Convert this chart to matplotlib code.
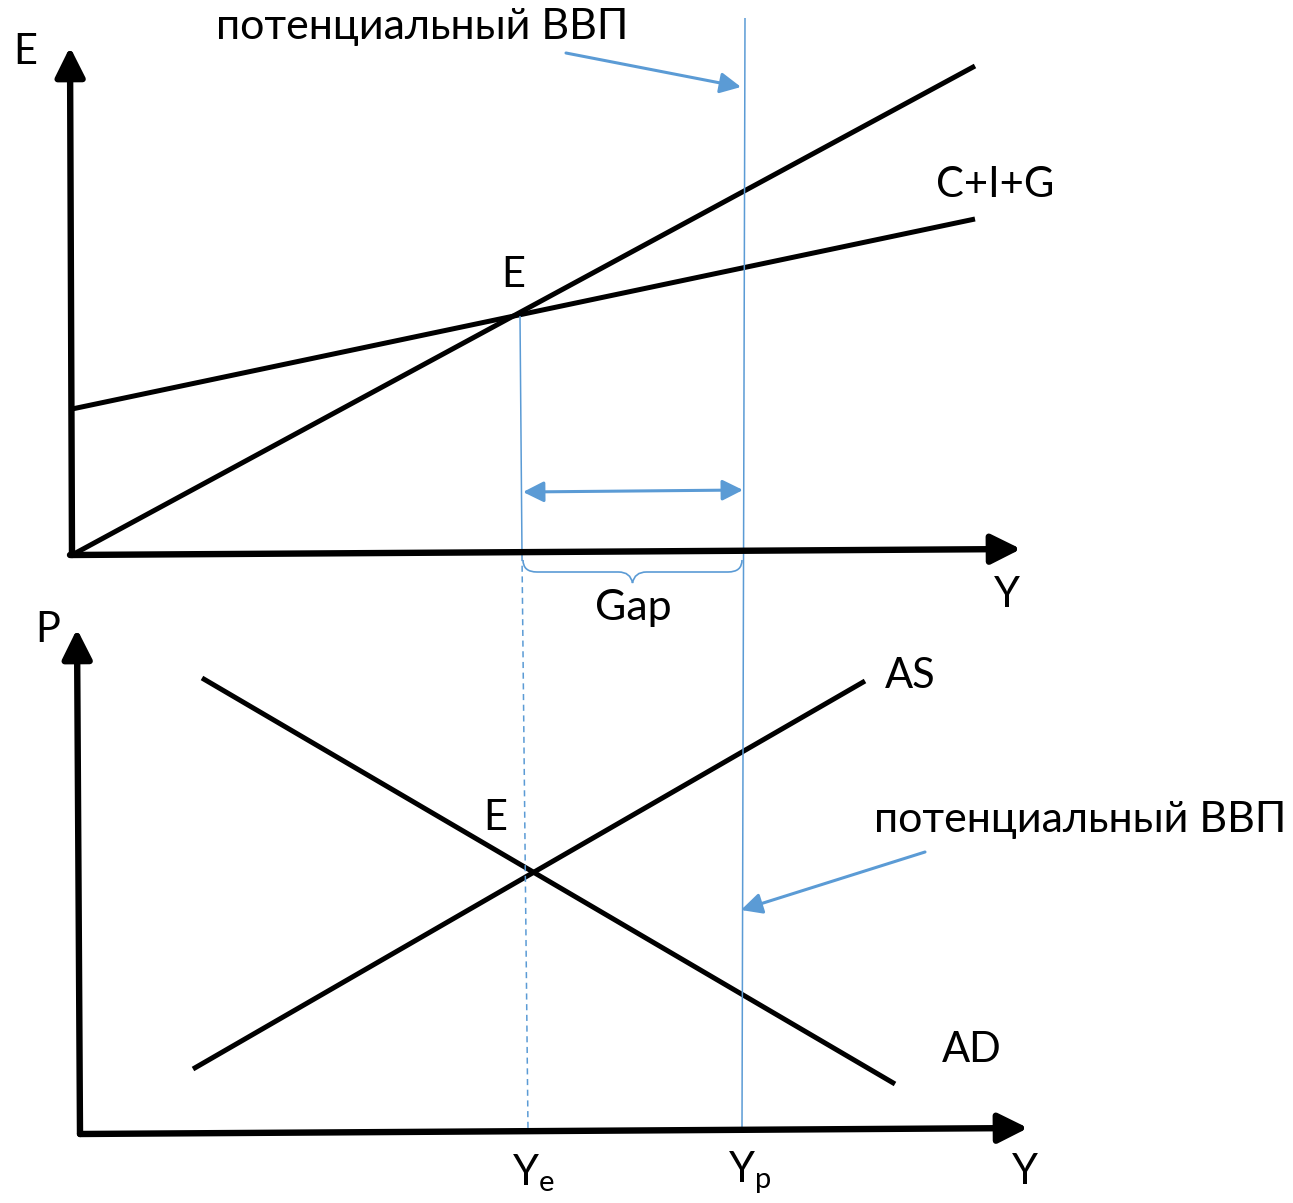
import matplotlib
matplotlib.use("Agg")
import matplotlib.pyplot as plt
from matplotlib.path import Path
from matplotlib.patches import PathPatch

plt.rcParams['font.family'] = ['Lato', 'DejaVu Sans']

# координаты схемы (пиксели картинки, y вниз)
# верхний график: кейнсианский крест
e_axis = [(72, 555), (70, 47)]
y_axis_top = [(70, 555), (1021, 549)]
line45 = [(72, 555), (975, 66)]
cig = [(72, 409), (975, 219)]
# нижний график: AD-AS
p_axis = [(80, 1134), (77, 629)]
y_axis_bot = [(80, 1134), (1028, 1128)]
ad = [(202, 678), (895, 1084)]
as_line = [(193, 1069), (865, 681)]
# вертикали Ye и Yp
ye_solid = [(520, 316), (522, 555)]
ye_dash = [(522, 555), (528, 1130)]
yp_line = [(745, 18), (742, 1128)]
gap_arrow = [(523, 492), (743, 490)]
note_top = [(566, 53), (741, 87)]
note_bot = [(925, 852), (741, 910)]

labels = [
    ("E", 25, 52, 30), ("потенциальный ВВП", 422, 27, 31),
    ("C+I+G", 995, 185, 30), ("E", 513, 275, 30), ("Y", 1007, 595, 30),
    ("Gap", 633, 608, 31), ("P", 48, 630, 30), ("AS", 910, 676, 30),
    ("E", 495, 818, 30), ("потенциальный ВВП", 1080, 820, 31),
    ("AD", 972, 1050, 30), ("Y", 1025, 1172, 30),
    (r"Y$_{\mathregular{e}}$", 533, 1173, 30),
    (r"Y$_{\mathregular{p}}$", 750, 1173, 30),
]

blue = "#5B9BD5"

fig = plt.figure(figsize=(12.93, 12.03), dpi=100)
ax = fig.add_axes([0, 0, 1, 1])
ax.set_xlim(0, 1293)
ax.set_ylim(1203, 0)
ax.axis("off")


def seg(pts, **kw):
    xs, ys = zip(*pts)
    ax.plot(xs, ys, solid_capstyle="butt", **kw)


def arrow(pts, style, color, lw, scale):
    ax.annotate("", xy=pts[1], xytext=pts[0],
                arrowprops=dict(arrowstyle=style, color=color, lw=lw,
                                mutation_scale=scale, shrinkA=0, shrinkB=0))


# оси
ax_head = "-|>,head_length=0.9,head_width=0.45"
for a in (e_axis, y_axis_top, p_axis, y_axis_bot):
    arrow(a, ax_head, "black", 4.6, 20)

for l in (line45, cig, ad, as_line):
    seg(l, color="black", lw=3.6)

seg(ye_solid, color=blue, lw=1.1)
seg(ye_dash, color=blue, lw=1.1, ls=(0, (4, 3)))
seg(yp_line, color=blue, lw=1.1)

arrow(gap_arrow, "<|-|>,head_length=0.9,head_width=0.45", blue, 2.2, 14)
arrow(note_top, "-|>,head_length=0.9,head_width=0.45", blue, 2.2, 14)
arrow(note_bot, "-|>,head_length=0.9,head_width=0.45", blue, 2.2, 14)

# фигурная скобка под Gap
x0, x1, yt = 523, 742, 560
xm = (x0 + x1) / 2
verts = [(x0, yt), (x0, 572), (x0 + 14, 572),
         (xm - 14, 572), (xm - 2, 572), (xm, 583),
         (xm + 2, 572), (xm + 14, 572),
         (x1 - 14, 572), (x1, 572), (x1, yt)]
codes = [Path.MOVETO, Path.CURVE3, Path.CURVE3,
         Path.LINETO, Path.CURVE3, Path.CURVE3,
         Path.CURVE3, Path.CURVE3,
         Path.LINETO, Path.CURVE3, Path.CURVE3]
ax.add_patch(PathPatch(Path(verts, codes), fill=False, ec=blue, lw=1.2))

for txt, x, y, fs in labels:
    ax.text(x, y, txt, fontsize=fs, ha="center", va="center", color="black")

fig.savefig("out.png", dpi=100)
